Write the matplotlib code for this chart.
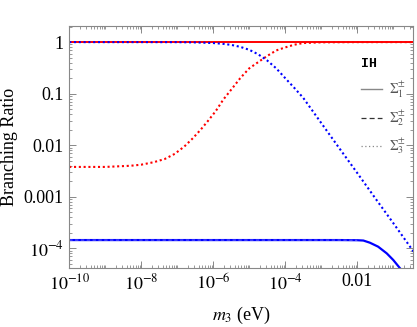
import numpy as np
import matplotlib
matplotlib.use('Agg')
import matplotlib.pyplot as plt
from matplotlib.lines import Line2D
from matplotlib.ticker import LogLocator, FixedLocator, NullFormatter

plt.rcParams['font.family'] = ['Liberation Serif', 'DejaVu Serif']
plt.rcParams['mathtext.fontset'] = 'stix'

# log10(m3 / eV) and branching ratios
red_dot_logm = [-10, -9, -8.3, -8.0, -7.65, -7.35, -7.07, -6.8, -6.57, -6.35, -6.14,
                -5.93, -5.72, -5.5, -5.25, -5.0, -4.75, -4.5, -4.25, -4.0, -3.75,
                -3.5, -3.0, -2.0, -0.4]
red_dot_br = [0.0038, 0.0038, 0.0040, 0.0042, 0.0047, 0.0054, 0.0068, 0.0095, 0.0136,
              0.020, 0.030, 0.046, 0.077, 0.12, 0.20, 0.31, 0.41, 0.54, 0.69, 0.79,
              0.89, 0.96, 0.99, 1.0, 1.0]

blue_dot_logm = [-10, -8, -7, -6.5, -6, -5.75, -5.5, -5.25, -5.0, -4.75, -4.5, -4.25,
                 -4.0, -3.75, -3.5, -3.0, -2.5, -2.0, -1.5, -1.0, -0.4]
blue_dot_br = [1.0, 1.0, 0.998, 0.987, 0.96, 0.93, 0.885, 0.81, 0.71, 0.58, 0.44, 0.31,
               0.20, 0.13, 0.083, 0.027, 0.0088, 0.0029, 0.00094, 0.00031, 0.000080]

red_solid_logm = [-10, -0.4]
red_solid_br = [1.0, 1.0]

blue_solid_logm = [-10, -4, -2.5, -2.0, -1.83, -1.65, -1.42, -1.18, -1.0, -0.81, -0.6]
blue_solid_br = [1.45e-4, 1.45e-4, 1.45e-4, 1.44e-4, 1.42e-4, 1.29e-4, 1.08e-4, 8.0e-5,
                 5.96e-5, 4.1e-5, 2.6e-5]

xticks = [1e-10, 1e-8, 1e-6, 1e-4, 1e-2]
xticklabels = ['$10^{-10}$', '$10^{-8}$', '$10^{-6}$', '$10^{-4}$', '0.01']
yticks = [1e-4, 1e-3, 1e-2, 1e-1, 1]
yticklabels = ['$10^{-4}$', '0.001', '0.01', '0.1', '1']
legend_labels = ['$\\Sigma_1^{\\pm}$', '$\\Sigma_2^{\\pm}$', '$\\Sigma_3^{\\pm}$']

fig = plt.figure(figsize=(4.17, 3.27), dpi=100)
ax = fig.add_axes([0.166, 0.181, 0.824, 0.739])

dot = (0, (1.0, 1.3))
ax.plot(10.0 ** np.array(red_solid_logm), red_solid_br, color='#ff0000', lw=1.4)
ax.plot(10.0 ** np.array(red_dot_logm), red_dot_br, color='#ff0000', lw=1.5, ls=dot)
ax.plot(10.0 ** np.array(blue_solid_logm), blue_solid_br, color='#0000ff', lw=1.6)
ax.plot(10.0 ** np.array(blue_solid_logm[:4]), blue_solid_br[:4], color='#7f7fff',
        lw=0.6, ls=(0, (4, 3)))
ax.plot(10.0 ** np.array(blue_dot_logm), blue_dot_br, color='#0000ff', lw=1.5, ls=dot)

ax.set_xscale('log')
ax.set_yscale('log')
ax.set_xlim(1e-10, 0.35)
ax.set_ylim(4.2e-5, 2.04)

ax.xaxis.set_major_locator(FixedLocator(xticks))
ax.set_xticklabels(xticklabels)
ax.xaxis.set_minor_locator(LogLocator(base=10, subs=np.arange(1, 10), numticks=100))
ax.xaxis.set_minor_formatter(NullFormatter())
ax.yaxis.set_major_locator(FixedLocator(yticks))
ax.set_yticklabels(yticklabels)
ax.yaxis.set_minor_locator(LogLocator(base=10, subs=np.arange(2, 10), numticks=100))
ax.yaxis.set_minor_formatter(NullFormatter())

ax.tick_params(which='both', direction='in', top=True, right=True, color='#888888',
               labelsize=13, labelcolor='black', pad=4)
ax.tick_params(which='major', length=5, width=0.7)
ax.tick_params(which='minor', length=2.5, width=0.6)
for sp in ax.spines.values():
    sp.set_edgecolor('#888888')
    sp.set_linewidth(0.8)

ax.set_xlabel('$m_3$ (eV)', fontsize=13, labelpad=8)
ax.set_ylabel('Branching Ratio', fontsize=13, labelpad=4)

handles = [Line2D([], [], color='#888888', lw=1.0, ls='-'),
           Line2D([], [], color='#333333', lw=0.9, ls=(0, (4, 2.5))),
           Line2D([], [], color='#888888', lw=0.9, ls=(0, (1, 2)))]
leg = ax.legend(handles, legend_labels, title='IH', loc='upper left',
                bbox_to_anchor=(0.83, 0.895), frameon=False, fontsize=10,
                handlelength=1.5, handletextpad=0.5, labelspacing=0.62,
                borderpad=0, alignment='left',
                title_fontproperties={'family': 'Liberation Mono', 'weight': 'bold',
                                      'size': 9.5})
for t in leg.get_texts():
    t.set_color('#555555')

fig.savefig('out.png', dpi=100, facecolor='white')
